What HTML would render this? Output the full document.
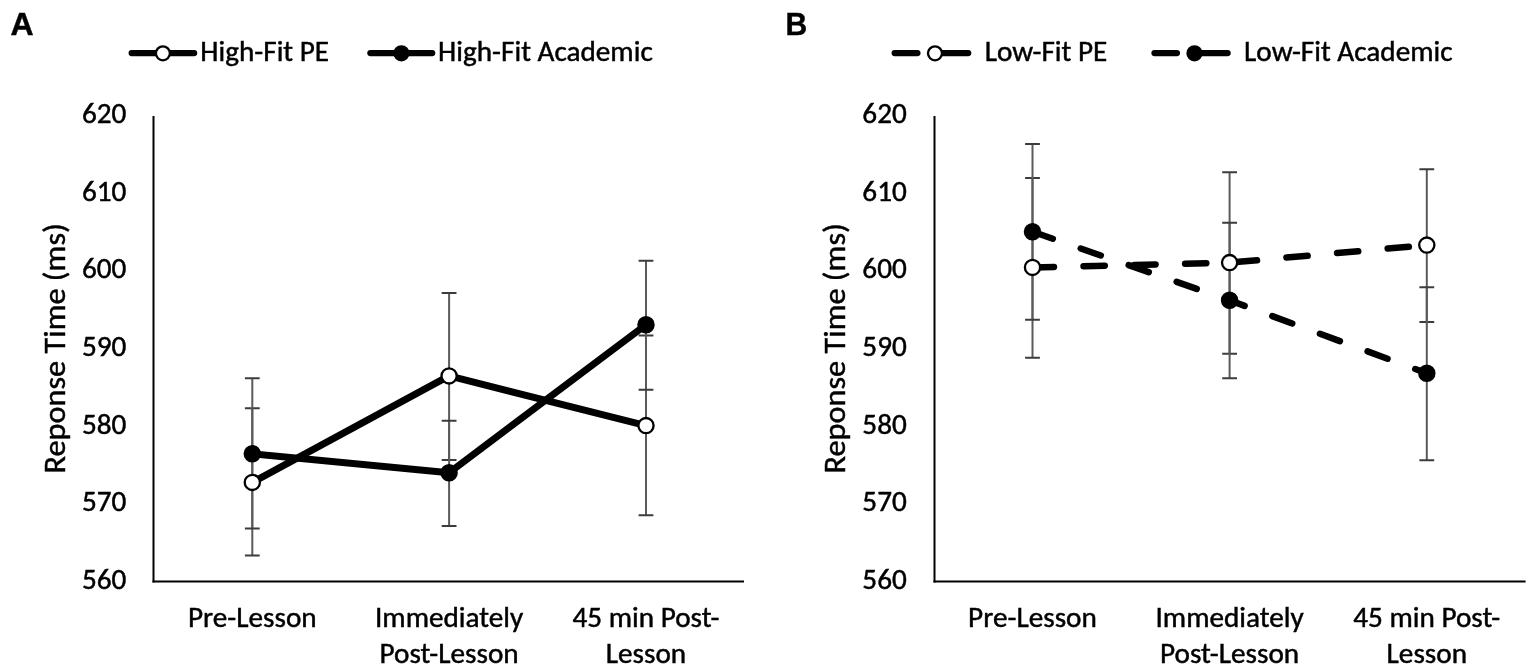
<!DOCTYPE html>
<html><head><meta charset="utf-8"><title>Response time figure</title>
<style>
html,body{margin:0;padding:0;background:#fff;}
body{width:1535px;height:671px;overflow:hidden;}
svg{display:block;}
text{font-family:"Carlito", "Liberation Sans", sans-serif;fill:#000;stroke:#000;stroke-width:0.45px;}
</style></head>
<body>
<svg width="1535" height="671" viewBox="0 0 1535 671">
<rect width="1535" height="671" fill="#fff"/>
<text x="10.40" y="34.9" style='font-family:"Liberation Sans", Arial, sans-serif;font-weight:700' font-size="32">A</text>
<line x1="131.70" y1="53.1" x2="194.10" y2="53.1" stroke="#000" stroke-width="6.3" stroke-linecap="round"/>
<circle cx="162.9" cy="53.35" r="7.0" fill="#fff" stroke="#000" stroke-width="2.3"/>
<text x="200.30" y="60.80" text-anchor="start" font-size="28.03" textLength="128.77" lengthAdjust="spacingAndGlyphs">High-Fit PE</text>
<line x1="370.40" y1="53.1" x2="432.20" y2="53.1" stroke="#000" stroke-width="6.3" stroke-linecap="round"/>
<circle cx="401.4" cy="53.35" r="7.0" fill="#000" stroke="#000" stroke-width="2.3"/>
<text x="438.10" y="60.80" text-anchor="start" font-size="28.03" textLength="214.66" lengthAdjust="spacingAndGlyphs">High-Fit Academic</text>
<line x1="153.5" y1="116.0" x2="153.5" y2="582.5" stroke="#000" stroke-width="2"/>
<line x1="152.5" y1="581.5" x2="744.0" y2="581.5" stroke="#000" stroke-width="2"/>
<text x="126.40" y="123.20" text-anchor="end" font-size="28.03" textLength="44.41" lengthAdjust="spacingAndGlyphs">620</text>
<text x="126.40" y="200.83" text-anchor="end" font-size="28.03" textLength="44.41" lengthAdjust="spacingAndGlyphs">610</text>
<text x="126.40" y="278.46" text-anchor="end" font-size="28.03" textLength="44.41" lengthAdjust="spacingAndGlyphs">600</text>
<text x="126.40" y="356.09" text-anchor="end" font-size="28.03" textLength="44.41" lengthAdjust="spacingAndGlyphs">590</text>
<text x="126.40" y="433.72" text-anchor="end" font-size="28.03" textLength="44.41" lengthAdjust="spacingAndGlyphs">580</text>
<text x="126.40" y="511.35" text-anchor="end" font-size="28.03" textLength="44.41" lengthAdjust="spacingAndGlyphs">570</text>
<text x="126.40" y="588.98" text-anchor="end" font-size="28.03" textLength="44.41" lengthAdjust="spacingAndGlyphs">560</text>
<text x="0" y="0" transform="translate(65.0,348.35) rotate(-90)" text-anchor="middle" font-size="31.01" textLength="250.38" lengthAdjust="spacingAndGlyphs">Reponse Time (ms)</text>
<text x="252.30" y="626.70" text-anchor="middle" font-size="28.03" textLength="128.74" lengthAdjust="spacingAndGlyphs">Pre-Lesson</text>
<text x="449.10" y="626.70" text-anchor="middle" font-size="28.03" textLength="148.22" lengthAdjust="spacingAndGlyphs">Immediately</text>
<text x="449.10" y="662.80" text-anchor="middle" font-size="28.03" textLength="139.20" lengthAdjust="spacingAndGlyphs">Post-Lesson</text>
<text x="646.00" y="626.70" text-anchor="middle" font-size="28.03" textLength="146.99" lengthAdjust="spacingAndGlyphs">45 min Post-</text>
<text x="646.00" y="662.80" text-anchor="middle" font-size="28.03" textLength="80.39" lengthAdjust="spacingAndGlyphs">Lesson</text>
<path d="M252.30 408.30V555.40" stroke="#5a5a5a" stroke-width="2" fill="none"/>
<path d="M244.90 408.30H259.70M244.90 555.40H259.70" stroke="#3c3c3c" stroke-width="2" fill="none"/>
<path d="M449.10 293.10V460.10" stroke="#5a5a5a" stroke-width="2" fill="none"/>
<path d="M441.70 293.10H456.50M441.70 460.10H456.50" stroke="#3c3c3c" stroke-width="2" fill="none"/>
<path d="M646.00 335.40V515.30" stroke="#5a5a5a" stroke-width="2" fill="none"/>
<path d="M638.60 335.40H653.40M638.60 515.30H653.40" stroke="#3c3c3c" stroke-width="2" fill="none"/>
<path d="M252.30 378.30V528.60" stroke="#5a5a5a" stroke-width="2" fill="none"/>
<path d="M244.90 378.30H259.70M244.90 528.60H259.70" stroke="#3c3c3c" stroke-width="2" fill="none"/>
<path d="M449.10 420.70V525.90" stroke="#5a5a5a" stroke-width="2" fill="none"/>
<path d="M441.70 420.70H456.50M441.70 525.90H456.50" stroke="#3c3c3c" stroke-width="2" fill="none"/>
<path d="M646.00 260.70V389.70" stroke="#5a5a5a" stroke-width="2" fill="none"/>
<path d="M638.60 260.70H653.40M638.60 389.70H653.40" stroke="#3c3c3c" stroke-width="2" fill="none"/>
<polyline points="252.30,482.40 449.10,375.90 646.00,425.60" fill="none" stroke="#000" stroke-width="7.0" stroke-linecap="round" stroke-linejoin="round"/>
<polyline points="252.30,453.80 449.10,472.70 646.00,324.80" fill="none" stroke="#000" stroke-width="7.0" stroke-linecap="round" stroke-linejoin="round"/>
<circle cx="252.30" cy="482.40" r="7.6" fill="#fff" stroke="#000" stroke-width="2.3"/>
<circle cx="449.10" cy="375.90" r="7.6" fill="#fff" stroke="#000" stroke-width="2.3"/>
<circle cx="646.00" cy="425.60" r="7.6" fill="#fff" stroke="#000" stroke-width="2.3"/>
<circle cx="252.30" cy="453.80" r="7.6" fill="#000" stroke="#000" stroke-width="2.3"/>
<circle cx="449.10" cy="472.70" r="7.6" fill="#000" stroke="#000" stroke-width="2.3"/>
<circle cx="646.00" cy="324.80" r="7.6" fill="#000" stroke="#000" stroke-width="2.3"/>
<text x="785.40" y="34.9" style='font-family:"Liberation Sans", Arial, sans-serif;font-weight:700' font-size="32" textLength="21.7" lengthAdjust="spacingAndGlyphs">B</text>
<line x1="894.70" y1="53.1" x2="917.40" y2="53.1" stroke="#000" stroke-width="6.3" stroke-linecap="round"/>
<line x1="935.00" y1="53.1" x2="968.20" y2="53.1" stroke="#000" stroke-width="6.3" stroke-linecap="round"/>
<circle cx="935.0" cy="53.35" r="7.0" fill="#fff" stroke="#000" stroke-width="2.3"/>
<text x="984.70" y="60.80" text-anchor="start" font-size="28.03" textLength="122.61" lengthAdjust="spacingAndGlyphs">Low-Fit PE</text>
<line x1="1154.50" y1="53.1" x2="1176.90" y2="53.1" stroke="#000" stroke-width="6.3" stroke-linecap="round"/>
<line x1="1194.50" y1="53.1" x2="1227.60" y2="53.1" stroke="#000" stroke-width="6.3" stroke-linecap="round"/>
<circle cx="1194.5" cy="53.35" r="7.0" fill="#000" stroke="#000" stroke-width="2.3"/>
<text x="1244.10" y="60.80" text-anchor="start" font-size="28.03" textLength="208.51" lengthAdjust="spacingAndGlyphs">Low-Fit Academic</text>
<line x1="934.5" y1="116.0" x2="934.5" y2="582.5" stroke="#000" stroke-width="2"/>
<line x1="933.5" y1="581.5" x2="1525.6" y2="581.5" stroke="#000" stroke-width="2"/>
<text x="906.80" y="123.20" text-anchor="end" font-size="28.03" textLength="44.41" lengthAdjust="spacingAndGlyphs">620</text>
<text x="906.80" y="200.83" text-anchor="end" font-size="28.03" textLength="44.41" lengthAdjust="spacingAndGlyphs">610</text>
<text x="906.80" y="278.46" text-anchor="end" font-size="28.03" textLength="44.41" lengthAdjust="spacingAndGlyphs">600</text>
<text x="906.80" y="356.09" text-anchor="end" font-size="28.03" textLength="44.41" lengthAdjust="spacingAndGlyphs">590</text>
<text x="906.80" y="433.72" text-anchor="end" font-size="28.03" textLength="44.41" lengthAdjust="spacingAndGlyphs">580</text>
<text x="906.80" y="511.35" text-anchor="end" font-size="28.03" textLength="44.41" lengthAdjust="spacingAndGlyphs">570</text>
<text x="906.80" y="588.98" text-anchor="end" font-size="28.03" textLength="44.41" lengthAdjust="spacingAndGlyphs">560</text>
<text x="0" y="0" transform="translate(845.1,348.35) rotate(-90)" text-anchor="middle" font-size="31.01" textLength="250.38" lengthAdjust="spacingAndGlyphs">Reponse Time (ms)</text>
<text x="1032.50" y="626.70" text-anchor="middle" font-size="28.03" textLength="128.74" lengthAdjust="spacingAndGlyphs">Pre-Lesson</text>
<text x="1229.60" y="626.70" text-anchor="middle" font-size="28.03" textLength="148.22" lengthAdjust="spacingAndGlyphs">Immediately</text>
<text x="1229.60" y="662.80" text-anchor="middle" font-size="28.03" textLength="139.20" lengthAdjust="spacingAndGlyphs">Post-Lesson</text>
<text x="1426.80" y="626.70" text-anchor="middle" font-size="28.03" textLength="146.99" lengthAdjust="spacingAndGlyphs">45 min Post-</text>
<text x="1426.80" y="662.80" text-anchor="middle" font-size="28.03" textLength="80.39" lengthAdjust="spacingAndGlyphs">Lesson</text>
<path d="M1032.50 178.10V357.70" stroke="#5a5a5a" stroke-width="2" fill="none"/>
<path d="M1025.10 178.10H1039.90M1025.10 357.70H1039.90" stroke="#3c3c3c" stroke-width="2" fill="none"/>
<path d="M1229.60 172.30V353.80" stroke="#5a5a5a" stroke-width="2" fill="none"/>
<path d="M1222.20 172.30H1237.00M1222.20 353.80H1237.00" stroke="#3c3c3c" stroke-width="2" fill="none"/>
<path d="M1426.80 169.30V321.90" stroke="#5a5a5a" stroke-width="2" fill="none"/>
<path d="M1419.40 169.30H1434.20M1419.40 321.90H1434.20" stroke="#3c3c3c" stroke-width="2" fill="none"/>
<path d="M1032.50 143.90V319.80" stroke="#5a5a5a" stroke-width="2" fill="none"/>
<path d="M1025.10 143.90H1039.90M1025.10 319.80H1039.90" stroke="#3c3c3c" stroke-width="2" fill="none"/>
<path d="M1229.60 222.80V378.20" stroke="#5a5a5a" stroke-width="2" fill="none"/>
<path d="M1222.20 222.80H1237.00M1222.20 378.20H1237.00" stroke="#3c3c3c" stroke-width="2" fill="none"/>
<path d="M1426.80 287.30V460.30" stroke="#5a5a5a" stroke-width="2" fill="none"/>
<path d="M1419.40 287.30H1434.20M1419.40 460.30H1434.20" stroke="#3c3c3c" stroke-width="2" fill="none"/>
<polyline points="1032.50,267.40 1229.60,262.60 1426.80,245.10" fill="none" stroke="#000" stroke-width="6.5" stroke-linecap="round" stroke-linejoin="round" stroke-dasharray="21.25 29.55" stroke-dashoffset="-0.25"/>
<polyline points="1032.50,231.70 1229.60,300.30 1426.80,373.30" fill="none" stroke="#000" stroke-width="6.5" stroke-linecap="round" stroke-linejoin="round" stroke-dasharray="21.25 29.55" stroke-dashoffset="-0.25"/>
<circle cx="1032.50" cy="267.40" r="7.6" fill="#fff" stroke="#000" stroke-width="2.3"/>
<circle cx="1229.60" cy="262.60" r="7.6" fill="#fff" stroke="#000" stroke-width="2.3"/>
<circle cx="1426.80" cy="245.10" r="7.6" fill="#fff" stroke="#000" stroke-width="2.3"/>
<circle cx="1032.50" cy="231.70" r="7.6" fill="#000" stroke="#000" stroke-width="2.3"/>
<circle cx="1229.60" cy="300.30" r="7.6" fill="#000" stroke="#000" stroke-width="2.3"/>
<circle cx="1426.80" cy="373.30" r="7.6" fill="#000" stroke="#000" stroke-width="2.3"/>
</svg>
</body></html>
